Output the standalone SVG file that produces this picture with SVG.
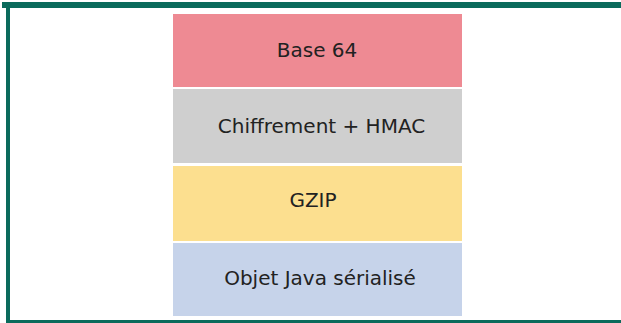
<svg xmlns="http://www.w3.org/2000/svg" width="621" height="323" viewBox="0 0 621 323">
<style>
.frame{fill:#0b6b5c}
.lbl{font-family:"DejaVu Sans",sans-serif;font-size:20px;fill:#222;text-anchor:middle}
</style>
<rect x="0" y="0" width="621" height="323" fill="#ffffff"/>
<g id="frame">
<rect class="frame" x="2" y="2" width="619" height="6"/>
<rect class="frame" x="6" y="2" width="4" height="321"/>
<rect class="frame" x="6" y="320" width="615" height="3"/>
</g>
<g id="base64">
<rect x="173" y="14" width="289" height="73" fill="#ee8a93"/>
<text class="lbl" x="317" y="57">Base 64</text>
</g>
<g id="chiffrement">
<rect x="173" y="89" width="289" height="74" fill="#cfcfcf"/>
<text class="lbl" x="321.5" y="133">Chiffrement + HMAC</text>
</g>
<g id="gzip">
<rect x="173" y="166" width="289" height="75" fill="#fcdf8f"/>
<text class="lbl" x="313" y="207">GZIP</text>
</g>
<g id="objet">
<rect x="173" y="243" width="289" height="73" fill="#c6d3ea"/>
<text class="lbl" x="320" y="285">Objet Java sérialisé</text>
</g>
<g id="connectors"/>
</svg>
